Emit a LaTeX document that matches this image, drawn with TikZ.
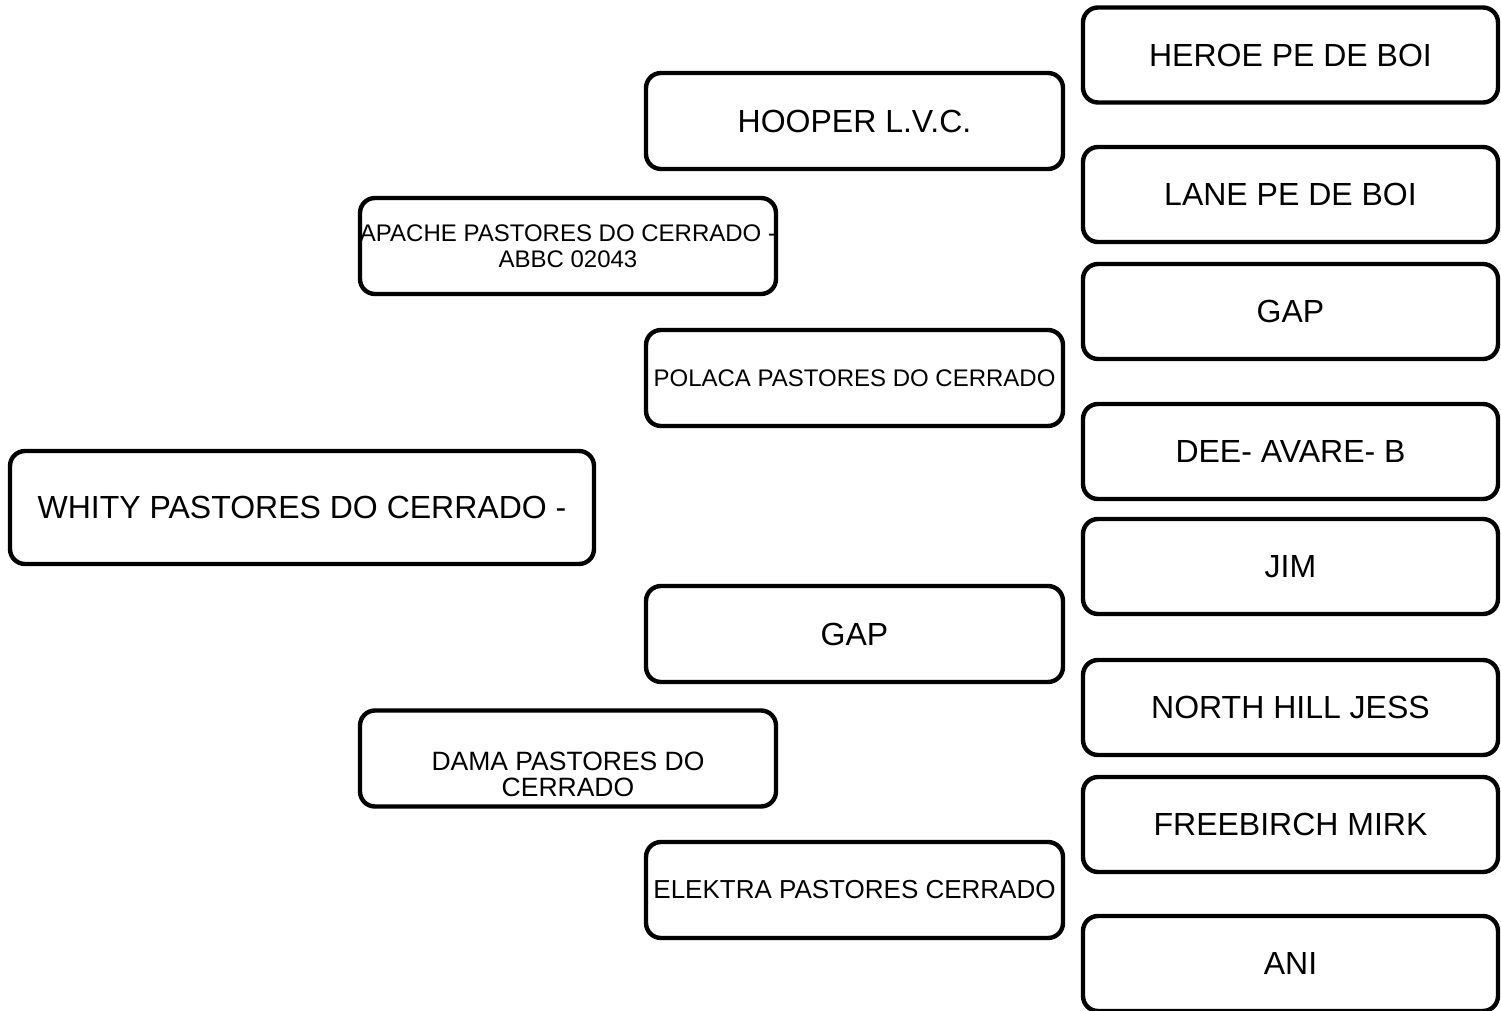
\documentclass[tikz,border=0pt]{standalone}
\usepackage{fontspec}
\setmainfont{Liberation Sans}

\begin{document}
\begin{tikzpicture}[x=0.5pt, y=-0.5pt,
        dog/.style={draw, line width=2.2pt, rounded corners=7.5pt, fill=white, inner sep=0pt, align=center, font=\fontsize{16pt}{18pt}\selectfont},
        gen0/.style={dog, minimum width=292pt, minimum height=56.5pt},
        gen1/.style={dog, minimum width=208pt, minimum height=48pt},
        gen2/.style={dog, minimum width=208.5pt, minimum height=48pt},
        gen3/.style={dog, minimum width=207.5pt, minimum height=47.5pt},
        smalltext/.style={font=\fontsize{12pt}{13pt}\selectfont}]
        \useasboundingbox (0,0) rectangle (1501,1011);

        \node[gen0] (whity) at (302,507.5) {WHITY PASTORES DO CERRADO -};

        \node[gen1, smalltext, inner xsep=-3pt] (apache) at (568,246) {APACHE PASTORES DO CERRADO -\\ABBC 02043};
        \node[gen1, font=\fontsize{13.25pt}{13pt}\selectfont, text height=38pt, text depth=0pt] (dama) at (568,758.5) {DAMA PASTORES DO\\CERRADO};

        \node[gen2] (hooper) at (854.5,121) {HOOPER L.V.C.};
        \node[gen2, smalltext] (polaca) at (854.5,378) {POLACA PASTORES DO CERRADO};
        \node[gen2] (gapsire) at (854.5,634) {GAP};
        \node[gen2, font=\fontsize{13pt}{14pt}\selectfont] (elektra) at (854.5,890) {ELEKTRA PASTORES CERRADO};

        \node[gen3] (heroe) at (1290.5,55) {HEROE PE DE BOI};
        \node[gen3] (lane) at (1290.5,194.5) {LANE PE DE BOI};
        \node[gen3] (gap) at (1290.5,311.5) {GAP};
        \node[gen3] (dee) at (1290.5,451.5) {DEE- AVARE- B};
        \node[gen3] (jim) at (1290.5,566.5) {JIM};
        \node[gen3] (northhill) at (1290.5,707.5) {NORTH HILL JESS};
        \node[gen3] (freebirch) at (1290.5,824.5) {FREEBIRCH MIRK};
        \node[gen3] (ani) at (1290.5,963.5) {ANI};
\end{tikzpicture}
\end{document}
